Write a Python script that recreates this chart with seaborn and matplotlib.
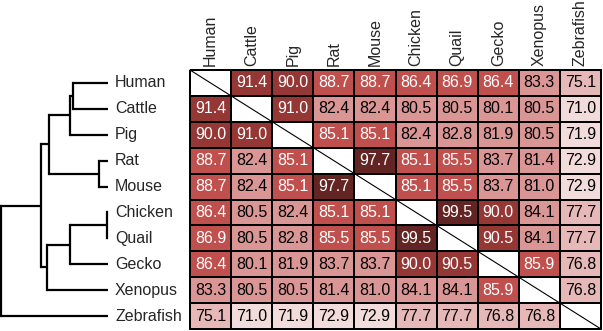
import numpy as np
import pandas as pd
import matplotlib
matplotlib.use("Agg")
import matplotlib.pyplot as plt
from matplotlib.colors import ListedColormap
import seaborn as sns

species = ["Human", "Cattle", "Pig", "Rat", "Mouse", "Chicken", "Quail",
           "Gecko", "Xenopus", "Zebrafish"]

NA = np.nan
identity = [
    [NA, 91.4, 90.0, 88.7, 88.7, 86.4, 86.9, 86.4, 83.3, 75.1],
    [91.4, NA, 91.0, 82.4, 82.4, 80.5, 80.5, 80.1, 80.5, 71.0],
    [90.0, 91.0, NA, 85.1, 85.1, 82.4, 82.8, 81.9, 80.5, 71.9],
    [88.7, 82.4, 85.1, NA, 97.7, 85.1, 85.5, 83.7, 81.4, 72.9],
    [88.7, 82.4, 85.1, 97.7, NA, 85.1, 85.5, 83.7, 81.0, 72.9],
    [86.4, 80.5, 82.4, 85.1, 85.1, NA, 99.5, 90.0, 84.1, 77.7],
    [86.9, 80.5, 82.8, 85.5, 85.5, 99.5, NA, 90.5, 84.1, 77.7],
    [86.4, 80.1, 81.9, 83.7, 83.7, 90.0, 90.5, NA, 85.9, 76.8],
    [83.3, 80.5, 80.5, 81.4, 81.0, 84.1, 84.1, 85.9, NA, 76.8],
    [75.1, 71.0, 71.9, 72.9, 72.9, 77.7, 77.7, 76.8, 76.8, NA],
]

# colour bins
bin_edges = [75, 80, 85, 89.5, 95]
bin_colors = ["#F2DCDB", "#E6B9B8", "#D99694", "#C0504D", "#953735", "#632523"]
white_text_bins = [3, 4, 5]

# dendrogram merges: (child a, child b, height)
merges = [
    ("Human", "Cattle", 35),
    ("n0", "Pig", 38),
    ("Rat", "Mouse", 9),
    ("n1", "n2", 59),
    ("Chicken", "Quail", 1),
    ("n4", "Gecko", 38),
    ("n5", "Xenopus", 61),
    ("n3", "n6", 67),
    ("n7", "Zebrafish", 107),
]

sns.set_theme(style="white")
plt.rcParams["font.family"] = ["Liberation Sans", "DejaVu Sans"]

W, H, DPI = 603, 331, 100
fig = plt.figure(figsize=(W / DPI, H / DPI), dpi=DPI)

vals = np.array(identity, dtype=float)
n = len(species)
bins = np.digitize(vals, bin_edges).astype(float)
bins[np.isnan(vals)] = len(bin_colors)
cmap = ListedColormap(bin_colors + ["#FFFFFF"])
annot = np.where(np.isnan(vals), "", np.vectorize(lambda v: f"{v:.1f}")(np.nan_to_num(vals)))

top_px, bot_px = 70, 329
hm_left, hm_right = 190, 601
ax = fig.add_axes([hm_left / W, 1 - bot_px / H, (hm_right - hm_left) / W, (bot_px - top_px) / H])
df = pd.DataFrame(bins, index=species, columns=species)
sns.heatmap(df, ax=ax, cmap=cmap, vmin=-0.5, vmax=len(bin_colors) + 0.5,
            cbar=False, annot=annot, fmt="", linewidths=1.3, linecolor="black",
            annot_kws={"fontsize": 11.5})
ax.collections[0].set_clip_on(False)

# text colours
k = 0
for i in range(n):
    for j in range(n):
        t = ax.texts[k]
        k += 1
        if int(bins[i, j]) in white_text_bins:
            t.set_color("white")
        else:
            t.set_color("black")

# diagonal line across white cells
ax.plot([0, n], [0, n], color="black", lw=0.8, clip_on=False)

ax.xaxis.tick_top()
ax.set_xticks(np.arange(n) + 0.5)
ax.set_xticklabels(species, rotation=90, fontsize=11.5, va="bottom")
ax.set_yticks(np.arange(n) + 0.5)
ax.set_yticklabels(species, rotation=0, fontsize=11.5, ha="left")
ax.tick_params(axis="x", length=0, pad=3)
ax.tick_params(axis="y", length=0, pad=54)
ax.set_xlabel("")
ax.set_ylabel("")

# dendrogram
dax = fig.add_axes([1 / W, 1 - bot_px / H, 107 / W, (bot_px - top_px) / H])
pos = {s: (i + 0.5, 0.0) for i, s in enumerate(species)}
for idx, (a, b, h) in enumerate(merges):
    ya, ha_ = pos[a]
    yb, hb = pos[b]
    dax.plot([ha_, h], [ya, ya], color="black", lw=1.6, clip_on=False, solid_capstyle="butt")
    dax.plot([hb, h], [yb, yb], color="black", lw=1.6, clip_on=False, solid_capstyle="butt")
    dax.plot([h, h], [ya, yb], color="black", lw=1.6, clip_on=False, solid_capstyle="projecting")
    pos[f"n{idx}"] = ((ya + yb) / 2, h)
dax.set_xlim(merges[-1][2], 0)
dax.set_ylim(n, 0)
dax.axis("off")

fig.savefig("out.png", dpi=DPI)
